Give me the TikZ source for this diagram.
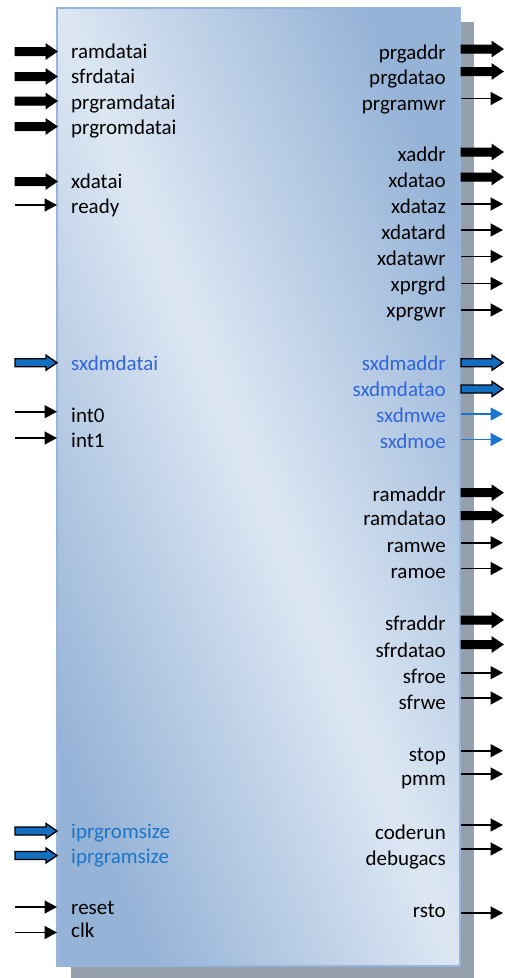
\documentclass[tikz,border=0pt]{standalone}
\usepackage{fontspec}
\setmainfont{Carlito}
\usetikzlibrary{arrows.meta,calc}
\definecolor{gdark}{RGB}{149,179,215}
\definecolor{glight}{RGB}{221,231,243}
\definecolor{boxedge}{RGB}{150,182,222}
\definecolor{shadowc}{RGB}{150,160,173}
\definecolor{arrblue}{RGB}{20,110,192}
\definecolor{tblue}{RGB}{26,117,208}
\definecolor{sxblue}{RGB}{47,101,217}
\definecolor{ipblue}{RGB}{27,117,201}
\pgfdeclarehorizontalshading{boxgrad}{100bp}{color(0bp)=(gdark); color(25bp)=(gdark); color(50bp)=(glight); color(75bp)=(gdark); color(100bp)=(gdark)}
\tikzset{
  lbl/.style={font=\fontsize{21}{25}\selectfont, inner sep=0pt, text=black},
  lsx/.style={lbl, text=sxblue},
  lip/.style={lbl, text=ipblue},
  blkarr/.style={fill=black, draw=black, line width=1pt, line join=miter},
  bluarr/.style={fill=arrblue, draw=black, line width=1.4pt, line join=miter},
  thinarr/.style={line width=1.6pt, draw=black, -{Triangle[length=12.5pt,width=13pt]}},
  thinblue/.style={thinarr, draw=tblue, color=tblue},
  boxsty/.style={shade, shading=boxgrad, shading angle=22.8, draw=boxedge, line width=1.5pt,
    minimum width=403pt, minimum height=958pt, inner sep=0pt, outer sep=0pt}
}
\newcommand\arrblock[3]{\draw[#1] ($(#2)+(0,-4)$) -- ($(#3)+(-11,-4)$) -- ($(#3)+(-11,-7.5)$) -- (#3) -- ($(#3)+(-11,7.5)$) -- ($(#3)+(-11,4)$) -- ($(#2)+(0,4)$) -- cycle;}
\newcommand\arrline[3]{\draw[#1] (#2) -- (#3);}
% id, label, text style, text y, arrow y, arrow kind, arrow style
\newcommand\inport[7]{%
  \node[#3, anchor=base west] (t#1) at (71,#4+6.5) {#2};
  \coordinate (s#1) at (15,#5);
  \coordinate (e#1) at (box.west |- s#1);
  \csname arr#6\endcsname{#7}{s#1}{e#1}}
\newcommand\outport[7]{%
  \node[#3, anchor=base east] (t#1) at (446,#4+6.5) {#2};
  \coordinate (s#1) at (461,#5);
  \coordinate (e#1) at (503,#5);
  \csname arr#6\endcsname{#7}{s#1}{e#1}}
\begin{document}
\begin{tikzpicture}[x=1pt,y=-1pt]
\useasboundingbox (0,0) rectangle (505,978);
\fill[shadowc] (71,22) rectangle (474,978);
\node[boxsty] (box) at (258.5,487) {};
% inputs
\inport{ramdatai}{ramdatai}{lbl}{51.7}{51.5}{block}{blkarr}
\inport{sfrdatai}{sfrdatai}{lbl}{77}{76.5}{block}{blkarr}
\inport{prgramdatai}{prgramdatai}{lbl}{103}{101}{block}{blkarr}
\inport{prgromdatai}{prgromdatai}{lbl}{128}{126.5}{block}{blkarr}
\inport{xdatai}{xdatai}{lbl}{182}{181.5}{block}{blkarr}
\inport{ready}{ready}{lbl}{206.5}{205}{line}{thinarr}
\inport{sxdmdatai}{sxdmdatai}{lsx}{363.5}{362.7}{block}{bluarr}
\inport{int0}{int0}{lbl}{416}{411.7}{line}{thinarr}
\inport{int1}{int1}{lbl}{441}{438}{line}{thinarr}
\inport{iprgromsize}{iprgromsize}{lip}{832}{831}{block}{bluarr}
\inport{iprgramsize}{iprgramsize}{lip}{857}{855.5}{block}{bluarr}
\inport{reset}{reset}{lbl}{908}{907}{line}{thinarr}
\inport{clk}{clk}{lbl}{931}{932.5}{line}{thinarr}
% outputs
\outport{prgaddr}{prgaddr}{lbl}{53}{49}{block}{blkarr}
\outport{prgdatao}{prgdatao}{lbl}{78}{71.5}{block}{blkarr}
\outport{prgramwr}{prgramwr}{lbl}{104}{98.5}{line}{thinarr}
\outport{xaddr}{xaddr}{lbl}{155}{152}{block}{blkarr}
\outport{xdatao}{xdatao}{lbl}{181}{177}{block}{blkarr}
\outport{xdataz}{xdataz}{lbl}{207}{204}{line}{thinarr}
\outport{xdatard}{xdatard}{lbl}{233}{230}{line}{thinarr}
\outport{xdatawr}{xdatawr}{lbl}{259}{256.5}{line}{thinarr}
\outport{xprgrd}{xprgrd}{lbl}{285}{283.5}{line}{thinarr}
\outport{xprgwr}{xprgwr}{lbl}{311}{310}{line}{thinarr}
\outport{sxdmaddr}{sxdmaddr}{lsx}{363.5}{362.7}{block}{bluarr}
\outport{sxdmdatao}{sxdmdatao}{lsx}{389.5}{389}{block}{bluarr}
\outport{sxdmwe}{sxdmwe}{lsx}{416}{414}{line}{thinblue}
\outport{sxdmoe}{sxdmoe}{lsx}{441.5}{439.5}{line}{thinblue}
\outport{ramaddr}{ramaddr}{lbl}{494.5}{492.7}{block}{blkarr}
\outport{ramdatao}{ramdatao}{lbl}{519}{515.5}{block}{blkarr}
\outport{ramwe}{ramwe}{lbl}{546}{542.7}{line}{thinarr}
\outport{ramoe}{ramoe}{lbl}{571.5}{568.5}{line}{thinarr}
\outport{sfraddr}{sfraddr}{lbl}{623.5}{620}{block}{blkarr}
\outport{sfrdatao}{sfrdatao}{lbl}{650.5}{644.5}{block}{blkarr}
\outport{sfroe}{sfroe}{lbl}{676.7}{672.7}{line}{thinarr}
\outport{sfrwe}{sfrwe}{lbl}{702.5}{698}{line}{thinarr}
\outport{stop}{stop}{lbl}{754.5}{750.7}{line}{thinarr}
\outport{pmm}{pmm}{lbl}{779}{774}{line}{thinarr}
\outport{coderun}{coderun}{lbl}{833}{825}{line}{thinarr}
\outport{debugacs}{debugacs}{lbl}{858.5}{849}{line}{thinarr}
\outport{rsto}{rsto}{lbl}{911}{913}{line}{thinarr}
\end{tikzpicture}
\end{document}
